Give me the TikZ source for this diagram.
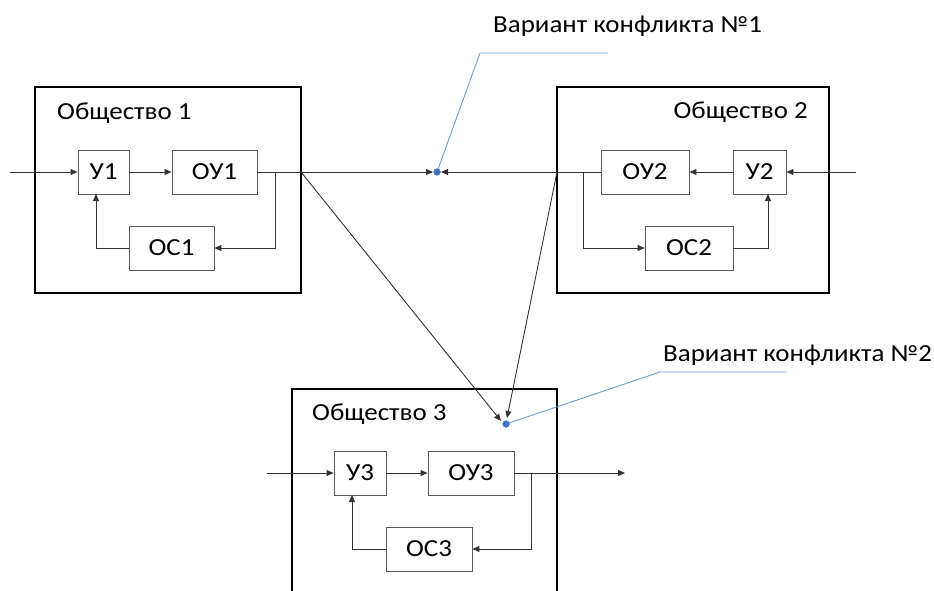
\documentclass[tikz,border=0pt]{standalone}
\usepackage{fontspec}
\setmainfont{Carlito}[FakeStretch=1.1]
\usetikzlibrary{arrows.meta,calc}
\definecolor{callblue}{RGB}{110,155,215}
\definecolor{dotblue}{RGB}{68,114,196}
\begin{document}
\begin{tikzpicture}[x=1pt,y=-1pt,
  txt/.style={font=\fontsize{24.5}{29}\selectfont, inner sep=0pt},
  blk/.style={draw=black!65, line width=0.9pt, minimum height=44pt, inner sep=0pt,
     font=\fontsize{24.5}{29}\selectfont, fill=white},
  soc/.style={draw=black, line width=2.4pt},
  con/.style={draw=black!80, line width=0.9pt},
  arr/.style={con, -{Triangle[length=7pt,width=6pt]}},
  call/.style={draw=callblue, line width=0.9pt},
  cdot/.style={circle, fill=dotblue, minimum size=7pt, inner sep=0pt}]
\useasboundingbox (0,0) rectangle (934,591);

% ---- Society 1
\draw[soc] (35,87) rectangle (301,293);
\node[txt, anchor=base west] (t1) at (57,120) {Общество 1};
\node[blk, minimum width=51pt] (u1) at (103.5,172) {У1};
\node[blk, minimum width=85pt] (ou1) at (214.5,172) {ОУ1};
\node[blk, minimum width=85pt] (oc1) at (171.5,248) {ОС1};

% ---- Society 2
\draw[soc] (557,87) rectangle (829,293);
\node[txt, anchor=base east] (t2) at (808,119) {Общество 2};
\node[blk, minimum width=88pt] (ou2) at (645,172) {ОУ2};
\node[blk, minimum width=53pt] (u2) at (759.5,172) {У2};
\node[blk, minimum width=88pt] (oc2) at (689,248) {ОС2};

% ---- Society 3
\draw[soc] (292,600) -- (292,389) -- (557,389) -- (557,600);
\node[txt, anchor=base west] (t3) at (312,420) {Общество 3};
\node[blk, minimum width=52pt] (u3) at (360,473) {У3};
\node[blk, minimum width=86pt] (ou3) at (471,473) {ОУ3};
\node[blk, minimum width=86pt] (oc3) at (429,549) {ОС3};

% ---- conflict points
\node[cdot] (c1) at (437,172) {};
\node[cdot] (c2) at (506,424) {};
\coordinate (c1l) at (433,172);
\coordinate (c1r) at (441,172);
\coordinate (c2a) at (501,421);
\coordinate (c2b) at (507,418);

% ---- coordinates
\coordinate (in1) at (10,172);
\coordinate (j1) at (275,172);
\coordinate (f1) at (96,194);
\coordinate (e1) at (301,172);
\coordinate (in2) at (856,172);
\coordinate (j2) at (583,172);
\coordinate (f2) at (768,194);
\coordinate (e2) at (557,172);
\coordinate (in3) at (267,473);
\coordinate (out3) at (625,473);
\coordinate (j3) at (531,473);
\coordinate (f3) at (352,495);

% ---- connectors society 1
\draw[arr] (in1) -- (u1.west);
\draw[arr] (u1.east) -- (ou1.west);
\draw[arr] (j1) |- (oc1.east);
\draw[arr] (oc1.west) -| (f1);
\draw[arr] (ou1.east) -- (c1l);

% ---- connectors society 2
\draw[arr] (in2) -- (u2.east);
\draw[arr] (u2.west) -- (ou2.east);
\draw[arr] (j2) |- (oc2.west);
\draw[arr] (oc2.east) -| (f2);
\draw[arr] (ou2.west) -- (c1r);

% ---- connectors society 3
\draw[arr] (in3) -- (u3.west);
\draw[arr] (u3.east) -- (ou3.west);
\draw[arr] (ou3.east) -- (out3);
\draw[arr] (j3) |- (oc3.east);
\draw[arr] (oc3.west) -| (f3);

% ---- cross connectors
\draw[arr] (e1) -- (c2a);
\draw[arr] (e2) -- (c2b);

% ---- callouts
\node[txt, anchor=base west] (v1) at (493,33) {Вариант конфликта №1};
\node[txt, anchor=base west] (v2) at (663,361) {Вариант конфликта №2};
\coordinate (v1a) at (608,53);
\coordinate (v1b) at (480,53);
\coordinate (v2a) at (787,372);
\coordinate (v2b) at (660,372);
\draw[call] (v1a) -- (v1b) -- (c1.center);
\draw[call] (v2a) -- (v2b) -- (c2.center);
\node[cdot] at (c1) {};
\node[cdot] at (c2) {};
\end{tikzpicture}
\end{document}
